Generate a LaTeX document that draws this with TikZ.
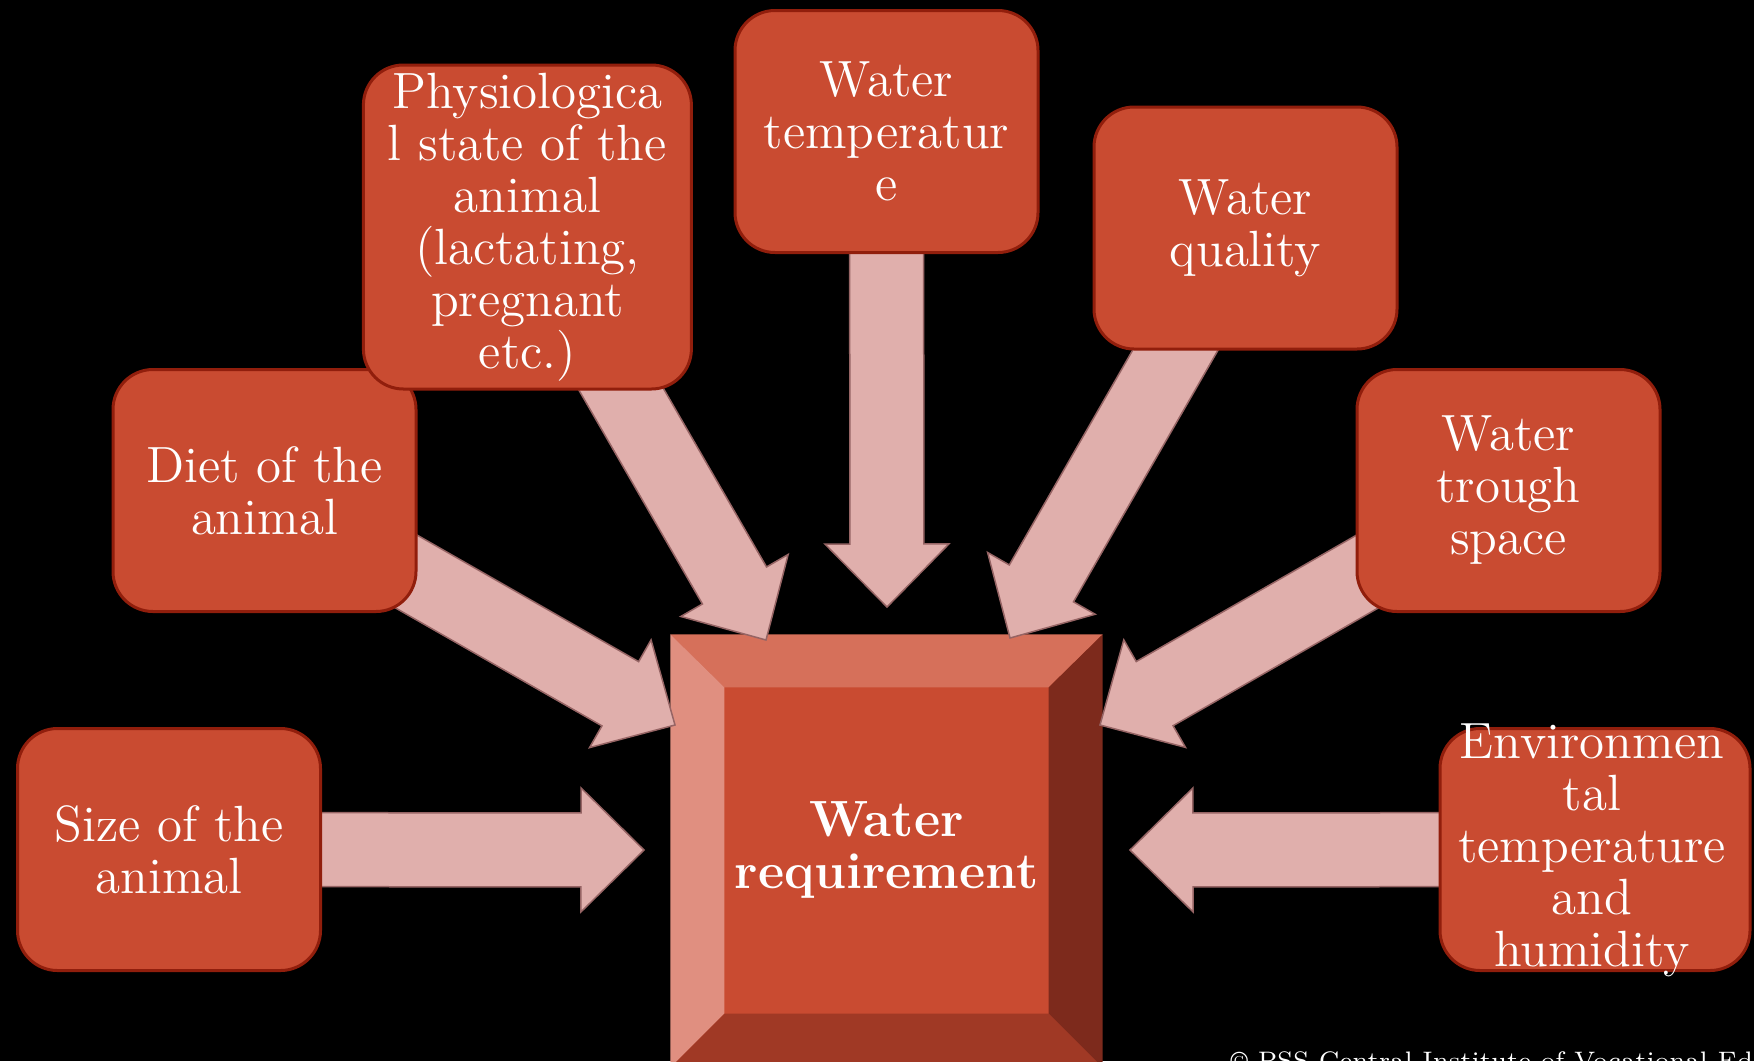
\documentclass[tikz,border=0pt]{standalone}
\usetikzlibrary{calc}
\definecolor{boxfill}{RGB}{201,75,49}
\definecolor{boxline}{RGB}{145,30,12}
\definecolor{arrfill}{RGB}{224,175,172}
\definecolor{arrline}{RGB}{150,100,100}
\definecolor{bvtop}{RGB}{214,112,90}
\definecolor{bvleft}{RGB}{224,143,128}
\definecolor{bvright}{RGB}{125,42,28}
\definecolor{bvbot}{RGB}{160,57,37}
\pgfdeclarelayer{bgl}
\pgfdeclarelayer{back}
\pgfdeclarelayer{mid}
\pgfsetlayers{bgl,back,mid,main}
\newcommand\blockarrow[2]{%
  \path (#2) coordinate (tipT) ($(#2)!6.3mm!(#1)$) coordinate (baseH);
  \draw[bigarrow] ($(#1)!3.7mm!90:(tipT)$) -- ($(baseH)!3.7mm!90:(tipT)$)
    -- ($(baseH)!6.2mm!90:(tipT)$) -- (tipT)
    -- ($(baseH)!6.2mm!-90:(tipT)$) -- ($(baseH)!3.7mm!-90:(tipT)$)
    -- ($(#1)!3.7mm!-90:(tipT)$) -- cycle;}
\begin{document}
\begin{tikzpicture}[x=0.1mm,y=-0.1mm,
  box/.style={draw=boxline, fill=boxfill, line width=0.3mm, rounded corners=4mm,
    minimum width=30.3mm, minimum height=24.2mm, inner sep=0pt,
    text=white, align=center, font=\fontsize{14.5}{14.8}\selectfont},
  boxtext/.style={text=white, align=center, inner sep=0pt, font=\fontsize{14.5}{14.8}\selectfont},
  bigarrow/.style={draw=arrline, fill=arrfill, line width=0.15mm, line join=miter}]
\begin{pgfonlayer}{bgl}
\fill[black] (0,0) rectangle (1754,1061);
\end{pgfonlayer}
\useasboundingbox (0,0) rectangle (1754,1061);

% central bevelled box
\begin{pgfonlayer}{back}
\node[fill=boxfill, minimum width=43.1mm, minimum height=43.2mm, inner sep=0pt] (req) at (886.5,851) {};
\coordinate (iNW) at ($(req.north west)+(54,53)$);
\coordinate (iNE) at ($(req.north east)+(-54,53)$);
\coordinate (iSE) at ($(req.south east)+(-54,-54)$);
\coordinate (iSW) at ($(req.south west)+(54,-54)$);
\fill[bvtop] (req.north west) -- (req.north east) -- (iNE) -- (iNW) -- cycle;
\fill[bvleft] (req.north west) -- (iNW) -- (iSW) -- (req.south west) -- cycle;
\fill[bvright] (req.north east) -- (req.south east) -- (iSE) -- (iNE) -- cycle;
\fill[bvbot] (req.south west) -- (iSW) -- (iSE) -- (req.south east) -- cycle;
\end{pgfonlayer}
\node[boxtext, font=\fontsize{14.5}{14.8}\selectfont\bfseries] (reqtext) at (886.5,850) {Water\\requirement};

% source boxes
\node[box] (size) at (169,849.5) {Size of the\\animal};
\node[box] (diet) at (264.5,490.5) {Diet of the\\animal};
\node[box, minimum width=32.8mm, minimum height=32.4mm] (phys) at (527.4,227) {Physiologica\\l state of the\\animal\\(lactating,\\pregnant\\etc.)};
\node[box] (wtemp) at (886.5,131.5) {Water\\temperatur\\e};
\node[box] (qual) at (1245.5,228) {Water\\quality};
\node[box] (trough) at (1508.5,490.5) {Water\\trough\\space};
\node[box, minimum width=31mm] (env) at (1595,849.5) {};
\node[boxtext] (envtext) at (1592,850) {Environmen\\tal\\temperature\\and\\humidity};

% arrow tips
\coordinate (t1) at (644,850);
\coordinate (t2) at (675,725);
\coordinate (t3) at (766,640);
\coordinate (t4) at (887,607);
\coordinate (t5) at (1010,638);
\coordinate (t6) at (1100,725);
\coordinate (t7) at (1130,850);

\begin{pgfonlayer}{mid}
\blockarrow{size}{t1}
\blockarrow{diet}{t2}
\blockarrow{phys}{t3}
\blockarrow{wtemp}{t4}
\blockarrow{qual}{t5}
\blockarrow{trough}{t6}
\blockarrow{env}{t7}
\end{pgfonlayer}

\node[anchor=base west, inner sep=0pt, text=white, font=\fontsize{7.2}{9}\selectfont] (footer) at (1230,1069) {\textcopyright{} PSS Central Institute of Vocational Education};
\end{tikzpicture}
\end{document}
